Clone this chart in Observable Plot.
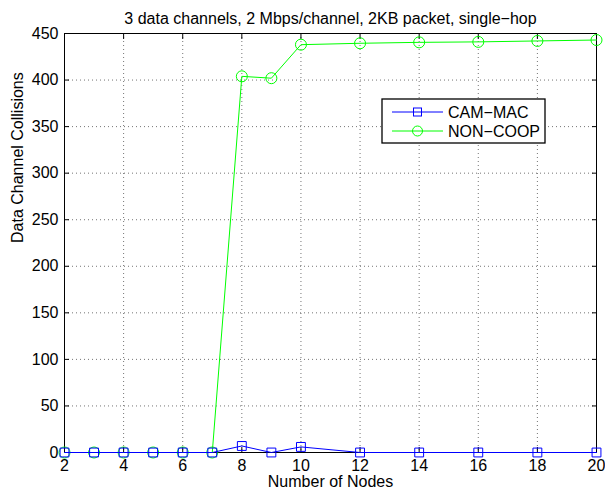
<!DOCTYPE html>
<html>
<head>
<meta charset="utf-8">
<script src="https://cdn.jsdelivr.net/npm/d3@7"></script>
<script src="https://cdn.jsdelivr.net/npm/@observablehq/plot@0.6"></script>
<style>
  html, body { margin: 0; padding: 0; background: white; }
</style>
</head>
<body>
<div id="chart"></div>
<script>
const titleText = "3 data channels, 2 Mbps/channel, 2KB packet, single\u2212hop";
const xLabel = "Number of Nodes";
const yLabel = "Data Channel Collisions";
const nodes = [2, 3, 4, 5, 6, 7, 8, 9, 10, 12, 14, 16, 18, 20];
const camMac = [0, 0, 0, 0, 0, 0, 7, 0, 6, 0, 0, 0, 0, 0];
const nonCoop = [0, 0, 0, 0, 0, 0, 404, 402, 438, 439.5, 440.5, 441, 442, 443];
const seriesNames = ["CAM\u2212MAC", "NON\u2212COOP"];
const seriesColors = ["#0000ff", "#00ff00"];
const xTicks = [2, 4, 6, 8, 10, 12, 14, 16, 18, 20];
const yTicks = [0, 50, 100, 150, 200, 250, 300, 350, 400, 450];

const camData = nodes.map((n, i) => ({n, v: camMac[i]}));
const nonData = nodes.map((n, i) => ({n, v: nonCoop[i]}));

const font = "'Liberation Sans', Arial, Helvetica, sans-serif";
const fs = 16;
const gridStyle = {stroke: "#000", strokeOpacity: 0.55, strokeDasharray: "1,3", strokeWidth: 1};

const chart = Plot.plot({
  width: 605,
  height: 496,
  marginLeft: 64,
  marginRight: 9,
  marginTop: 33,
  marginBottom: 44,
  style: {fontFamily: font, fontSize: fs + "px", background: "white", color: "black"},
  x: {domain: [2, 20], label: null},
  y: {domain: [0, 450], label: null},
  marks: [
    Plot.gridX(xTicks, gridStyle),
    Plot.gridY(yTicks, gridStyle),
    Plot.axisX({ticks: xTicks, anchor: "bottom", tickSize: 0, tickPadding: 7, fontSize: fs, label: null}),
    Plot.axisY({ticks: yTicks, anchor: "left", tickSize: 0, tickPadding: 6, fontSize: fs, label: null}),
    Plot.axisX({ticks: xTicks, anchor: "bottom", tickSize: -5, tickFormat: () => "", label: null}),
    Plot.axisX({ticks: xTicks, anchor: "top", tickSize: -5, tickFormat: () => "", label: null}),
    Plot.axisY({ticks: yTicks, anchor: "left", tickSize: -5, tickFormat: () => "", label: null}),
    Plot.axisY({ticks: yTicks, anchor: "right", tickSize: -5, tickFormat: () => "", label: null}),
    Plot.frame({stroke: "black", strokeWidth: 1}),
    Plot.line(nonData, {x: "n", y: "v", stroke: seriesColors[1], strokeWidth: 1}),
    Plot.dot(nonData, {x: "n", y: "v", stroke: seriesColors[1], symbol: "circle", r: 5.5, strokeWidth: 1, fill: "none"}),
    Plot.line(camData, {x: "n", y: "v", stroke: seriesColors[0], strokeWidth: 1}),
    Plot.dot(camData, {x: "n", y: "v", stroke: seriesColors[0], symbol: "square", r: 5, strokeWidth: 1, fill: "none"}),
    Plot.text([titleText], {frameAnchor: "top", dy: -21, fontSize: fs, fill: "black"}),
    Plot.text([xLabel], {frameAnchor: "bottom", dy: 34, fontSize: fs, fill: "black"}),
    Plot.text([yLabel], {frameAnchor: "left", dx: -47, rotate: -90, fontSize: fs, fill: "black"})
  ]
});

// Legend (inside plot area, MATLAB style)
const svg = d3.select(chart);
const lg = svg.append("g").attr("font-family", font).attr("font-size", fs).attr("text-anchor", "start");
const bx = 382, by = 99, bw = 163, bh = 44;
lg.append("rect").attr("x", bx).attr("y", by).attr("width", bw).attr("height", bh)
  .attr("fill", "white").attr("stroke", "black").attr("stroke-width", 1.3);
const rows = [by + 13, by + 32];
seriesNames.forEach((name, i) => {
  const yy = rows[i];
  lg.append("line").attr("x1", bx + 10).attr("x2", bx + 61).attr("y1", yy).attr("y2", yy)
    .attr("stroke", seriesColors[i]).attr("stroke-width", 1);
  if (i === 0) {
    lg.append("rect").attr("x", bx + 35.5 - 4).attr("y", yy - 4).attr("width", 8).attr("height", 8)
      .attr("fill", "none").attr("stroke", seriesColors[i]);
  } else {
    lg.append("circle").attr("cx", bx + 35.5).attr("cy", yy).attr("r", 5)
      .attr("fill", "none").attr("stroke", seriesColors[i]);
  }
  lg.append("text").attr("x", bx + 66).attr("y", yy).attr("dy", "0.36em").attr("fill", "black").text(name);
});

document.getElementById("chart").appendChild(chart);
</script>
</body>
</html>
